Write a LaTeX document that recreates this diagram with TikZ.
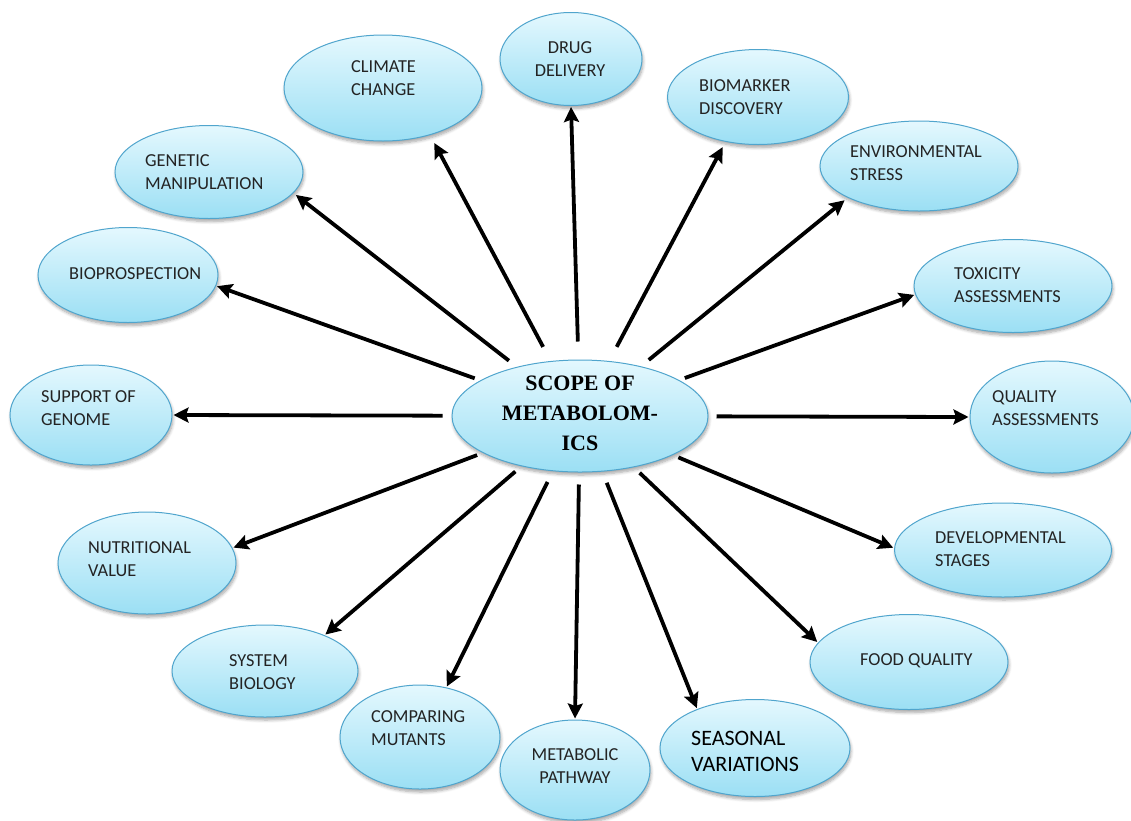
\documentclass[tikz,border=0pt]{standalone}
\usepackage{fontspec}
\setmainfont{Carlito}
\newfontfamily\titlefont{Liberation Serif}
\usetikzlibrary{shapes.geometric,arrows.meta,shadows.blur}

\definecolor{bubtop}{RGB}{228,248,254}
\definecolor{bubbot}{RGB}{155,223,244}
\definecolor{bubline}{RGB}{80,165,205}
\definecolor{labelgray}{RGB}{35,35,35}

\tikzset{
  bubble/.style={ellipse, draw=bubline, line width=1pt,
    top color=bubtop, bottom color=bubbot, inner sep=0pt,
    blur shadow={shadow xshift=1pt, shadow yshift=-3pt,
      shadow blur steps=6, shadow blur radius=3pt, shadow opacity=35}},
  lbl/.style={anchor=west, align=left, inner sep=0pt, text=labelgray,
    font=\fontsize{18.3}{22.5}\selectfont},
  clbl/.style={anchor=center, align=center, inner sep=0pt, text=labelgray,
    font=\fontsize{18.3}{22.5}\selectfont},
  spoke/.style={line width=3.8pt, -{Stealth[length=15pt,width=15pt,inset=2.5pt]},
    shorten <=9pt, shorten >=1pt},
}

\begin{document}
\begin{tikzpicture}[x=1pt,y=-1pt]
\useasboundingbox (0,0) rectangle (1131,820);

% hub
\node[bubble, minimum width=256, minimum height=112] (hub) at (580,416) {};
\node[anchor=center, align=center, inner sep=0pt,
  font=\titlefont\bfseries\fontsize{22}{30}\selectfont] (hubT) at (580,413)
  {SCOPE OF\\METABOLOM-\\ICS};

% surrounding topics
\node[bubble, minimum width=198, minimum height=106] (clim) at (383,88) {};
\node[bubble, minimum width=142, minimum height=93]  (drug) at (571,59) {};
\node[bubble, minimum width=181, minimum height=95]  (bio)  at (758,97) {};
\node[bubble, minimum width=198, minimum height=90]  (env)  at (919,166) {};
\node[bubble, minimum width=198, minimum height=93]  (tox)  at (1013,286) {};
\node[bubble, minimum width=164, minimum height=112] (qual) at (1052,417) {};
\node[bubble, minimum width=217, minimum height=94]  (dev)  at (1003,550) {};
\node[bubble, minimum width=198, minimum height=95]  (food) at (909,662) {};
\node[bubble, minimum width=190, minimum height=97]  (seas) at (755,748) {};
\node[bubble, minimum width=150, minimum height=100] (path) at (575,770) {};
\node[bubble, minimum width=160, minimum height=104] (mut)  at (420,737) {};
\node[bubble, minimum width=186, minimum height=92]  (sys)  at (265,671) {};
\node[bubble, minimum width=178, minimum height=102] (nut)  at (147,563) {};
\node[bubble, minimum width=162, minimum height=100] (gen)  at (91,415) {};
\node[bubble, minimum width=180, minimum height=95]  (pros) at (128,275) {};
\node[bubble, minimum width=188, minimum height=93]  (manip) at (209,172) {};

% topic labels
\node[lbl]  (climT) at (351,78)  {CLIMATE\\CHANGE};
\node[clbl] (drugT) at (570,59)  {DRUG\\DELIVERY};
\node[lbl]  (bioT)  at (699,97)  {BIOMARKER\\DISCOVERY};
\node[lbl]  (envT)  at (850,163) {ENVIRONMENTAL\\STRESS};
\node[lbl]  (toxT)  at (954,285) {TOXICITY\\ASSESSMENTS};
\node[lbl]  (qualT) at (992,408) {QUALITY\\ASSESSMENTS};
\node[lbl]  (devT)  at (935,549) {DEVELOPMENTAL\\STAGES};
\node[lbl]  (foodT) at (860,661) {FOOD QUALITY};
\node[anchor=west, align=left, inner sep=0pt, text=black,
  font=\fontsize{22}{26}\selectfont] (seasT) at (691,751) {SEASONAL\\VARIATIONS};
\node[clbl] (pathT) at (575,766) {METABOLIC\\PATHWAY};
\node[lbl]  (mutT)  at (371,728) {COMPARING\\MUTANTS};
\node[lbl]  (sysT)  at (229,672) {SYSTEM\\BIOLOGY};
\node[lbl]  (nutT)  at (88,559)  {NUTRITIONAL\\VALUE};
\node[lbl]  (genT)  at (41,408)  {SUPPORT OF\\GENOME};
\node[lbl]  (prosT) at (69,274)  {BIOPROSPECTION};
\node[lbl]  (manipT) at (145,172) {GENETIC\\MANIPULATION};

% spokes from the hub
\draw[spoke, shorten <=16pt, shorten >=9pt] (hub) -- (clim.-45);
\draw[spoke, shorten <=18pt] (hub) -- (drug.-90);
\draw[spoke, shorten <=16pt, shorten >=6pt] (hub) -- (bio.-126);
\draw[spoke, shorten <=10pt, shorten >=4pt] (hub) -- (env.204);
\draw[spoke, shorten <=6pt] (hub) -- (tox.185);
\draw[spoke, shorten <=8pt] (hub) -- (qual.180);
\draw[spoke, shorten <=6pt] (hub) -- (dev.179);
\draw[spoke, shorten <=8pt] (hub) -- (food.168);
\draw[spoke, shorten <=12pt] (hub) -- (seas.146);
\draw[spoke, shorten <=12pt] (hub) -- (path.90);
\draw[spoke, shorten <=12pt] (hub) -- (mut.62);
\draw[spoke, shorten <=8pt] (hub) -- (sys.31);
\draw[spoke, shorten <=6pt] (hub) -- (nut.10);
\draw[spoke, shorten <=9pt] (hub) -- (gen.0);
\draw[spoke, shorten <=6pt] (hub) -- (pros.-7);
\draw[spoke, shorten <=10pt, shorten >=3pt] (hub) -- (manip.-14);
\end{tikzpicture}
\end{document}
